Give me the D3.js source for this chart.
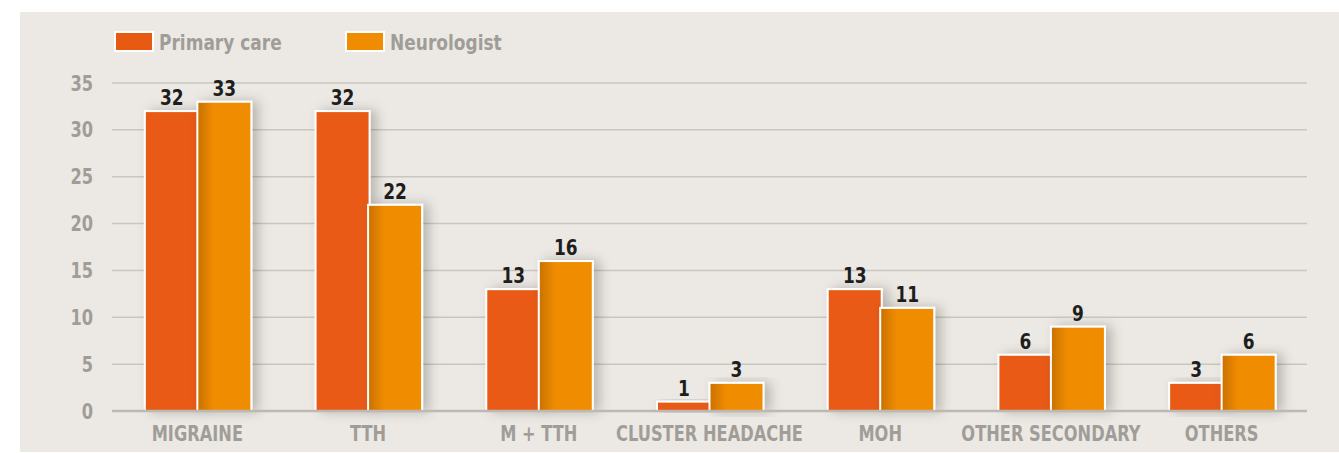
<!DOCTYPE html>
<html>
<head>
<meta charset="utf-8">
<script src="https://cdn.jsdelivr.net/npm/d3@7"></script>
<style>
  html, body { margin: 0; padding: 0; background: #fff; }
  svg text { font-family: "DejaVu Sans Condensed", "Liberation Sans Narrow", sans-serif; font-weight: bold; }
</style>
</head>
<body>
<svg class="canvas" width="1339" height="453"></svg>
<script>
var categories = ['MIGRAINE', 'TTH', 'M + TTH', 'CLUSTER HEADACHE', 'MOH', 'OTHER SECONDARY', 'OTHERS']
var seriesNames = ['Primary care', 'Neurologist']
var primaryCare = [32, 32, 13, 1, 13, 6, 3]
var neurologist = [33, 22, 16, 3, 11, 9, 6]
var yTicks = [0, 5, 10, 15, 20, 25, 30, 35]

var colors = ['#e85a12', '#f08c00']
var grey = '#a09d98'
var squeeze = 0.86
var svg = d3.select('.canvas')

// narrow text: place a group at (x,y) and squeeze it horizontally
function label(parent, px, py) {
    return parent.append('g')
        .attr('transform', 'translate(' + px + ',' + py + ') scale(' + squeeze + ',1)')
        .append('text')
}

// panel
svg.append('rect')
    .attr('x', 20).attr('y', 12)
    .attr('width', 1319).attr('height', 440)
    .attr('fill', '#ece9e4')

var defs = svg.append('defs')
var shadow = defs.append('filter').attr('id', 'shadow')
    .attr('x', '-20%').attr('y', '-20%').attr('width', '160%').attr('height', '140%')
shadow.append('feDropShadow')
    .attr('dx', 6).attr('dy', 0).attr('stdDeviation', 6)
    .attr('flood-color', '#000').attr('flood-opacity', 0.22)

var grad = defs.append('linearGradient').attr('id', 'neuroGrad')
    .attr('x1', '0%').attr('x2', '100%').attr('y1', '0%').attr('y2', '0%')
grad.append('stop').attr('offset', '0%').attr('stop-color', '#c87000')
grad.append('stop').attr('offset', '30%').attr('stop-color', '#f08c00')
grad.append('stop').attr('offset', '100%').attr('stop-color', '#f08c00')

var plotL = 112, plotR = 1307, plotT = 83, plotB = 411

var x = d3.scaleBand().domain(categories).range([plotL, plotR]).padding(0)
var y = d3.scaleLinear().domain([0, 35]).range([plotB, plotT])

// grid
svg.append('g').selectAll('line')
    .data(yTicks.filter(function (t) { return t > 0 }))
    .enter().append('line')
    .attr('x1', plotL).attr('x2', plotR)
    .attr('y1', function (d) { return y(d) }).attr('y2', function (d) { return y(d) })
    .attr('stroke', '#c9c6c0').attr('stroke-width', 1.5)

// y labels
var yl = svg.append('g')
yTicks.forEach(function (t) {
    label(yl, 93, y(t))
        .attr('dy', '0.36em')
        .attr('text-anchor', 'end')
        .attr('fill', grey)
        .attr('font-size', 21)
        .text(t)
})

var barW = 54
var bars = []
categories.forEach(function (c, i) {
    var cx = x(c) + x.bandwidth() / 2
    bars.push({ cat: c, s: 0, v: primaryCare[i], x0: cx - barW + 1.5 })
    bars.push({ cat: c, s: 1, v: neurologist[i], x0: cx })
})

var order = bars.slice().sort(function (a, b) { return a.s - b.s })
svg.append('g').selectAll('rect')
    .data(order)
    .enter().append('rect')
    .attr('x', function (d) { return d.x0 })
    .attr('y', function (d) { return y(d.v) })
    .attr('width', barW)
    .attr('height', function (d) { return plotB - y(d.v) })
    .attr('fill', function (d) { return d.s ? 'url(#neuroGrad)' : colors[0] })
    .attr('stroke', '#fff').attr('stroke-width', 2)
    .attr('filter', 'url(#shadow)')

// baseline
svg.append('line')
    .attr('x1', plotL).attr('x2', plotR)
    .attr('y1', plotB).attr('y2', plotB)
    .attr('stroke', '#bdb9b2').attr('stroke-width', 2.5)

// value labels
var vl = svg.append('g')
bars.forEach(function (d) {
    label(vl, d.x0 + barW / 2, y(d.v) - 6)
        .attr('text-anchor', 'middle')
        .attr('fill', '#1e1e1e')
        .attr('font-size', 22)
        .text(d.v)
})

// category labels
var cl = svg.append('g')
categories.forEach(function (c) {
    label(cl, x(c) + x.bandwidth() / 2, 441)
        .attr('text-anchor', 'middle')
        .attr('fill', grey)
        .attr('font-size', 21)
        .text(c)
})

// legend
var legendX = [115, 346]
seriesNames.forEach(function (s, i) {
    svg.append('rect')
        .attr('x', legendX[i]).attr('y', 32)
        .attr('width', 38).attr('height', 19)
        .attr('fill', colors[i])
        .attr('stroke', '#fff').attr('stroke-width', 2)
    label(svg, legendX[i] + 44, 50)
        .attr('fill', grey)
        .attr('font-size', 22)
        .text(s)
})
</script>
</body>
</html>
